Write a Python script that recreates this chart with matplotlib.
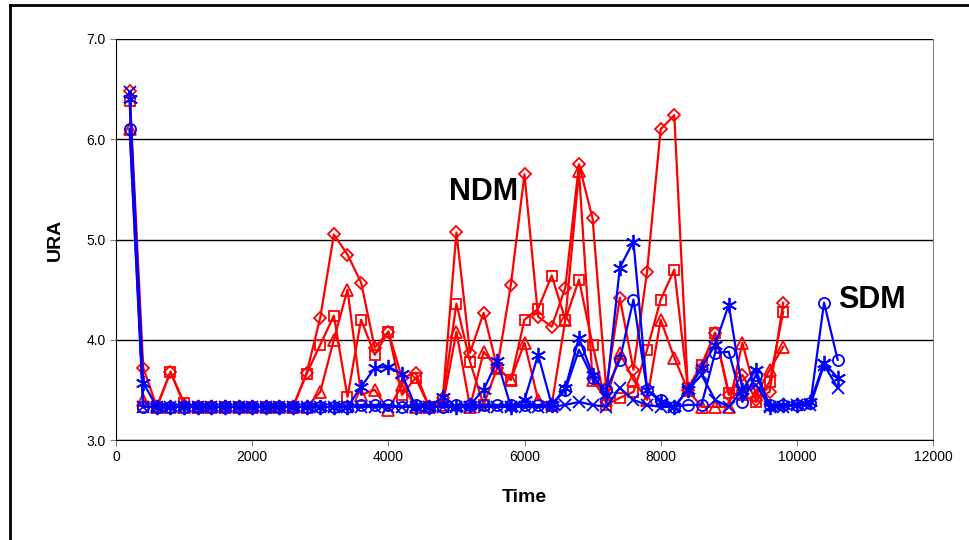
import matplotlib
matplotlib.use("Agg")
import matplotlib.pyplot as plt
from matplotlib.lines import Line2D

plt.rcParams['font.family'] = ['Liberation Sans', 'DejaVu Sans']

#%% data
time_ndm = [200, 400, 600, 800, 1000, 1200, 1400, 1600, 1800, 2000,
            2200, 2400, 2600, 2800, 3000, 3200, 3400, 3600, 3800, 4000,
            4200, 4400, 4600, 4800, 5000, 5200, 5400, 5600, 5800, 6000,
            6200, 6400, 6600, 6800, 7000, 7200, 7400, 7600, 7800, 8000,
            8200, 8400, 8600, 8800, 9000, 9200, 9400, 9600, 9800]
time_sdm = time_ndm + [10000, 10200, 10400, 10600]

ndm_diamond = [6.48, 3.72, 3.33, 3.68, 3.35, 3.33, 3.33, 3.33, 3.33, 3.33,
               3.33, 3.33, 3.33, 3.67, 4.22, 5.05, 4.85, 4.57, 3.92, 4.08,
               3.62, 3.67, 3.33, 3.42, 5.07, 3.87, 4.27, 3.72, 4.55, 5.65,
               4.23, 4.13, 4.52, 5.75, 5.21, 3.52, 4.42, 3.70, 4.68, 6.10,
               6.24, 3.50, 3.72, 4.07, 3.45, 3.65, 3.40, 3.48, 4.37]
ndm_square = [6.38, 3.33, 3.33, 3.68, 3.37, 3.33, 3.33, 3.33, 3.33, 3.33,
              3.33, 3.33, 3.33, 3.66, 3.95, 4.24, 3.43, 4.20, 3.85, 4.08,
              3.45, 3.62, 3.33, 3.40, 4.36, 3.78, 3.35, 3.72, 3.60, 4.20,
              4.31, 4.64, 4.20, 4.60, 3.95, 3.35, 3.42, 3.48, 3.90, 4.40,
              4.70, 3.52, 3.75, 4.07, 3.47, 3.45, 3.38, 3.58, 4.28]
ndm_triangle = [6.10, 3.40, 3.33, 3.33, 3.33, 3.33, 3.33, 3.33, 3.33, 3.33,
                3.33, 3.33, 3.33, 3.33, 3.48, 4.00, 4.50, 3.45, 3.50, 3.30,
                3.55, 3.33, 3.33, 3.35, 4.08, 3.33, 3.88, 3.72, 3.60, 3.97,
                3.40, 3.35, 4.20, 5.68, 3.60, 3.40, 3.87, 3.60, 3.40, 4.20,
                3.82, 3.50, 3.33, 3.33, 3.33, 3.97, 3.45, 3.70, 3.93]

sdm_circle = [6.10, 3.33, 3.33, 3.33, 3.33, 3.33, 3.33, 3.33, 3.33, 3.33,
              3.33, 3.33, 3.33, 3.33, 3.33, 3.33, 3.33, 3.35, 3.35, 3.35,
              3.33, 3.35, 3.33, 3.33, 3.35, 3.35, 3.35, 3.35, 3.35, 3.35,
              3.35, 3.35, 3.50, 3.90, 3.62, 3.50, 3.80, 4.40, 3.50, 3.40,
              3.33, 3.35, 3.35, 3.87, 3.88, 3.38, 3.65, 3.35, 3.35, 3.35,
              3.37, 4.37, 3.80]
sdm_star = [6.40, 3.57, 3.33, 3.33, 3.33, 3.33, 3.33, 3.33, 3.33, 3.33,
            3.33, 3.33, 3.33, 3.33, 3.33, 3.33, 3.33, 3.53, 3.72, 3.73,
            3.66, 3.33, 3.33, 3.43, 3.33, 3.35, 3.50, 3.79, 3.33, 3.40,
            3.85, 3.35, 3.52, 4.02, 3.65, 3.45, 4.72, 4.98, 3.50, 3.38,
            3.33, 3.50, 3.72, 3.95, 4.35, 3.50, 3.70, 3.33, 3.35, 3.35,
            3.38, 3.77, 3.62]
sdm_cross = [6.47, 3.33, 3.33, 3.33, 3.33, 3.33, 3.33, 3.33, 3.33, 3.33,
             3.33, 3.33, 3.33, 3.33, 3.33, 3.33, 3.33, 3.33, 3.33, 3.33,
             3.33, 3.33, 3.33, 3.33, 3.33, 3.33, 3.33, 3.33, 3.33, 3.33,
             3.33, 3.33, 3.35, 3.38, 3.35, 3.33, 3.52, 3.40, 3.35, 3.33,
             3.33, 3.50, 3.65, 3.40, 3.33, 3.50, 3.55, 3.33, 3.33, 3.35,
             3.35, 3.75, 3.52]

#%% figure setting
fig = plt.figure(figsize=(9.69, 5.40), dpi=100)
ax = fig.add_axes([116/969, 1 - 440/540, (933 - 116)/969, (440 - 39)/540])

# (values, marker, marker size)
red_series = [(ndm_diamond, 'D', 6.5), (ndm_square, 's', 7.5), (ndm_triangle, '^', 9)]
blue_series = [(sdm_circle, 'o', 8), (sdm_star, (6, 2, 0), 11), (sdm_cross, 'x', 9)]

for y, m, s in red_series:
    ax.plot(time_ndm, y, color='#ff0000', marker=m, ms=s, lw=1.6, mew=1.3, mfc='none')
for y, m, s in blue_series:
    ax.plot(time_sdm, y, color='#0000ff', marker=m, ms=s, lw=1.6, mew=1.3, mfc='none')

ax.set_xlim(0, 12000)
ax.set_ylim(3.0, 7.0)
ax.set_xticks(range(0, 12001, 2000))
ax.set_yticks([3.0, 4.0, 5.0, 6.0, 7.0])
ax.set_yticklabels(['3.0', '4.0', '5.0', '6.0', '7.0'])
ax.grid(axis='y', color='black', lw=1)
ax.set_axisbelow(True)
ax.tick_params(labelsize=10, direction='out', length=4, color='#808080')
for s in ['left', 'bottom']:
    ax.spines[s].set_color('black')
ax.spines['top'].set_visible(False)
ax.spines['right'].set_color('#808080')

ax.set_xlabel('Time', fontsize=14, fontweight='bold', labelpad=18)
ax.set_ylabel('URA', fontsize=14, fontweight='bold', labelpad=16)

ax.text(5400, 5.47, 'NDM', fontsize=22, fontweight='bold', ha='center', va='center')
ax.text(11100, 4.4, 'SDM', fontsize=22, fontweight='bold', ha='center', va='center')

# outer chart border
fig.add_artist(Line2D([10/969, 1], [1 - 5/540, 1 - 5/540], color='black', lw=2,
                      transform=fig.transFigure))
fig.add_artist(Line2D([10/969, 10/969], [0, 1 - 5/540], color='black', lw=2,
                      transform=fig.transFigure))

fig.savefig('out.png', dpi=100)
